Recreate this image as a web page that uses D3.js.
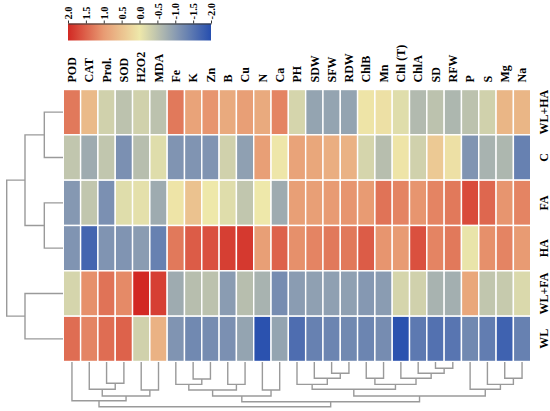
<!DOCTYPE html>
<html>
<head>
<meta charset="utf-8">
<script src="https://cdn.jsdelivr.net/npm/d3@7"></script>
<style>
  html, body { margin: 0; padding: 0; background: #fff; }
  svg { display: block; }
  text { font-family: "Liberation Serif", "Times New Roman", serif; font-weight: bold; fill: #000; }
</style>
</head>
<body>
<script>
const width = 550;
const height = 411;

const treatments = ['WL+HA', 'C', 'FA', 'HA', 'WL+FA', 'WL'];
const traits = ['POD', 'CAT', 'Prol.', 'SOD', 'H2O2', 'MDA', 'Fe', 'K', 'Zn', 'B', 'Cu', 'N', 'Ca',
    'PH', 'SDW', 'SFW', 'RDW', 'ChlB', 'Mn', 'Chl (T)', 'ChlA', 'SD', 'RFW', 'P', 'S', 'Mg', 'Na'];

// z-scores per treatment, same order as traits
const wl_ha = [1.3, 0.6, -0.3, -0.5, -0.3, -0.5, 1.3, 0.9, 1.05, 0.8, 0.95, 0.8, 1.2,
    -0.25, -0.9, -0.9, -0.9, 0.05, 0.1, -0.15, -0.6, -0.5, -0.65, -0.5, -0.3, 0.65, 0.65];
const c_ctrl = [-0.45, -0.8, -0.45, -1.15, -0.55, -0.15, -1.1, -1.1, -1.1, -0.3, -0.95, 0.95, 0.02,
    0.9, 0.85, 0.75, 0.7, -0.25, -0.55, 0.05, -0.3, 0.4, 0.1, -1.1, -0.7, -0.65, -1.35];
const fa = [-1.05, -0.45, -1.15, -0.15, -0.1, -0.8, 0.05, 0.5, 0.0, -0.15, -0.45, 0.0, -0.8,
    0.95, 0.95, 1.0, 1.05, 1.0, 1.35, 1.2, 1.05, 1.2, 1.3, 1.7, 1.45, 1.05, 1.2];
const ha = [-1.1, -1.7, -1.1, -1.1, -1.0, -1.35, 1.3, 1.55, 1.65, 1.8, 1.85, 0.95, 1.5,
    1.1, 1.2, 1.3, 1.3, 1.55, 1.05, 1.0, 1.65, 1.2, 1.3, -0.05, 1.1, 1.2, 1.0];
const wl_fa = [-0.25, 1.1, 1.35, 1.15, 2.0, 1.8, -0.8, -0.55, -0.5, -1.0, -0.55, -0.7, -1.2,
    -1.0, -0.95, -0.95, -0.95, -1.05, -1.0, -0.25, -0.3, -0.7, -0.75, 0.85, -0.45, -0.4, -0.2];
const wl = [1.4, 1.2, 1.4, 1.5, -0.3, 0.7, -1.1, -1.25, -1.2, -1.15, -0.9, -1.95, -0.9,
    -1.6, -1.35, -1.3, -1.25, -1.3, -1.2, -1.95, -1.45, -1.55, -1.5, -1.25, -1.4, -1.75, -1.35];
const matrix = [wl_ha, c_ctrl, fa, ha, wl_fa, wl];

const legend_ticks = [2, 1.5, 1, 0.5, 0, -0.5, -1, -1.5, -2];
const legend_labels = ['2.0', '1.5', '1.0', '0.5', '0.0', '-0.5', '-1.0', '-1.5', '-2.0'];

// colour ramp stops
const ramp_values = [2, 1, 0, -1, -2];
const ramp_colors = ['#d22823', '#e89b73', '#eee8aa', '#8a9cb2', '#264eaf'];

// dendrograms: [height, left, right], leaves are names
const col_tree = [10,
    [8.66, 'POD', [7.6, [6.1, 'CAT', [4.77, 'Prol.', 'SOD']], [6.26, 'H2O2', 'MDA']]],
    [8.88,
        [7.6, [6.26, [5.0, 'Fe', [3.8, 'K', 'Zn']], [5.0, 'B', 'Cu']], [6.26, 'N', 'Ca']],
        [7.6,
            [6.1,
                [5.0, 'PH', [3.65, 'SDW', [2.53, 'SFW', 'RDW']]],
                [5.0, [3.65, 'ChlB', 'Mn'], [3.65, 'Chl (T)', [2.53, 'ChlA', [1.41, 'SD', 'RFW']]]]],
            [6.1, 'P', [5.0, 'S', [3.65, 'Mg', 'Na']]]]]];
const row_tree = [10,
    [6.75, [3.32, 'WL+HA', 'C'], [3.32, 'FA', 'HA']],
    [6.75, 'WL+FA', 'WL']];

const svg = d3.select('body').append('svg')
    .attr('width', width)
    .attr('height', height);

const x = d3.scaleBand().domain(traits).range([63.3, 530.7]);
const y = d3.scaleBand().domain(treatments).range([89.5, 361.5]);
const color = d3.scaleLinear().domain(ramp_values).range(ramp_colors).clamp(true);

// heatmap cells
const row_g = svg.append('g').selectAll('g')
    .data(matrix)
    .enter()
    .append('g')
        .attr('transform', (d, i) => `translate(0,${y(treatments[i])})`);

row_g.selectAll('rect')
    .data((d) => d)
    .enter()
    .append('rect')
        .attr('x', (d, j) => x(traits[j]))
        .attr('y', 0)
        .attr('width', x.bandwidth())
        .attr('height', y.bandwidth())
        .attr('fill', (d) => color(d))
        .attr('stroke', '#fff')
        .attr('stroke-width', 1.4);

// column labels
svg.append('g').selectAll('text')
    .data(traits)
    .enter()
    .append('text')
        .attr('transform', (d) => `translate(${x(d) + x.bandwidth() / 2},82.5) rotate(-90)`)
        .attr('dy', '0.35em')
        .attr('font-size', 12)
        .text((d) => d);

// row labels
svg.append('g').selectAll('text')
    .data(treatments)
    .enter()
    .append('text')
        .attr('transform', (d) => `translate(548,${y(d) + y.bandwidth() / 2}) rotate(-90)`)
        .attr('text-anchor', 'middle')
        .attr('font-size', 12)
        .text((d) => d);

// dendrogram helpers
function build(node, leaf_pos) {
    if (typeof node === 'string') return { h: 0, p: leaf_pos(node) };
    const a = build(node[1], leaf_pos);
    const b = build(node[2], leaf_pos);
    return { h: node[0], p: (a.p + b.p) / 2, kids: [a, b] };
}

function elbows(node, out) {
    if (!node.kids) return out;
    out.push(node);
    node.kids.forEach((k) => elbows(k, out));
    return out;
}

const col_h = d3.scaleLinear().domain([0, 10]).range([362, 406.7]);
const col_root = build(col_tree, (name) => x(name) + x.bandwidth() / 2);
svg.append('g').selectAll('path')
    .data(elbows(col_root, []))
    .enter()
    .append('path')
        .attr('d', (d) => {
            const [a, b] = d.kids;
            return `M${a.p},${col_h(a.h)}V${col_h(d.h)}H${b.p}V${col_h(b.h)}`;
        })
        .attr('fill', 'none')
        .attr('stroke', '#9a9a9a')
        .attr('stroke-width', 1.4);

const row_h = d3.scaleLinear().domain([0, 10]).range([63, 6.7]);
const row_root = build(row_tree, (name) => y(name) + y.bandwidth() / 2);
svg.append('g').selectAll('path')
    .data(elbows(row_root, []))
    .enter()
    .append('path')
        .attr('d', (d) => {
            const [a, b] = d.kids;
            return `M${row_h(a.h)},${a.p}H${row_h(d.h)}V${b.p}H${row_h(b.h)}`;
        })
        .attr('fill', 'none')
        .attr('stroke', '#9a9a9a')
        .attr('stroke-width', 1.4);

// colour key
const key_x = d3.scaleLinear().domain([2, -2]).range([68, 211]);
const grad = svg.append('defs').append('linearGradient')
    .attr('id', 'key-grad')
    .attr('x1', '0%').attr('x2', '100%');
grad.selectAll('stop')
    .data(d3.range(0, 41).map((i) => 2 - i * 0.1))
    .enter()
    .append('stop')
        .attr('offset', (d) => `${(2 - d) / 4 * 100}%`)
        .attr('stop-color', (d) => color(d));

svg.append('rect')
    .attr('x', key_x(2))
    .attr('y', 23.5)
    .attr('width', key_x(-2) - key_x(2))
    .attr('height', 17)
    .attr('fill', 'url(#key-grad)');

const key_axis = svg.append('g')
    .attr('transform', 'translate(0,23.5)')
    .call(d3.axisTop(key_x)
        .tickValues(legend_ticks)
        .tickFormat((d, i) => legend_labels[i])
        .tickSize(3)
        .tickSizeOuter(0));
key_axis.select('.domain').attr('stroke', '#333');
key_axis.selectAll('.tick line').attr('stroke', '#333');
key_axis.selectAll('.tick text')
    .attr('font-size', 10.5)
    .attr('font-family', '"Liberation Serif", "Times New Roman", serif')
    .attr('text-anchor', 'start')
    .attr('transform', 'translate(0,-4) rotate(-90)')
    .attr('x', 0)
    .attr('y', 0)
    .attr('dy', '0.35em');
</script>
</body>
</html>
